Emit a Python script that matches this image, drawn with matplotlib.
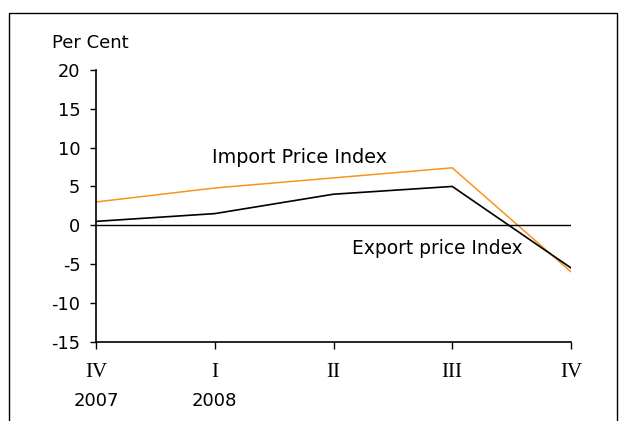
import matplotlib
matplotlib.use("Agg")
import matplotlib.pyplot as plt
from matplotlib.patches import Rectangle

quarters = ["IV", "I", "II", "III", "IV"]
years = ["2007", "2008", "", "", ""]
import_idx = [3.0, 4.8, 6.1, 7.4, -6.0]
export_idx = [0.5, 1.5, 4.0, 5.0, -5.5]
yticks = [-15, -10, -5, 0, 5, 10, 15, 20]

plt.rcParams['font.family'] = ['DejaVu Sans']
W, H = 619, 421
fig = plt.figure(figsize=(W / 100, H / 100), dpi=100)

# outer frame (left, top, right visible)
fig.patches.append(Rectangle((9 / W, -0.1), (617 - 9) / W, 1.1 - 13 / H,
                             transform=fig.transFigure, fill=False,
                             edgecolor='black', linewidth=1.0))

ax = fig.add_axes([96 / W, 1 - 341.7 / H, (571 - 96) / W, (341.7 - 70) / H])
x = list(range(len(quarters)))
ax.plot(x, import_idx, color='#F7941D', linewidth=1.1)
ax.plot(x, export_idx, color='black', linewidth=1.2)
ax.axhline(0, color='black', linewidth=1.0)

ax.set_ylim(-15, 20)
ax.set_xlim(0, len(quarters) - 1)
ax.set_yticks(yticks)
ax.set_yticklabels([str(v) for v in yticks], fontsize=12.8)
ax.set_xticks(x)
ax.set_xticklabels(quarters, fontsize=15, family='Liberation Serif')
for s in ['top', 'right']:
    ax.spines[s].set_visible(False)
for s in ['left', 'bottom']:
    ax.spines[s].set_linewidth(1.2)
ax.tick_params(axis='y', direction='out', length=4.3, width=1, pad=7)
ax.tick_params(axis='x', direction='out', length=5, width=1, pad=10.5)

for xi, yr in zip(x, years):
    if yr:
        ax.annotate(yr, xy=(xi, 0), xycoords=('data', 'axes fraction'),
                    xytext=(0, -59), textcoords='offset pixels',
                    ha='center', va='center', fontsize=13)

fig.text(52 / W, 1 - 43 / H, "Per Cent", fontsize=13, ha='left', va='center')
fig.text(212 / W, 1 - 158 / H, "Import Price Index", fontsize=13.8, ha='left', va='center')
fig.text(352 / W, 1 - 248 / H, "Export price Index", fontsize=13.4, ha='left', va='center')

fig.savefig("out.png", dpi=100)
